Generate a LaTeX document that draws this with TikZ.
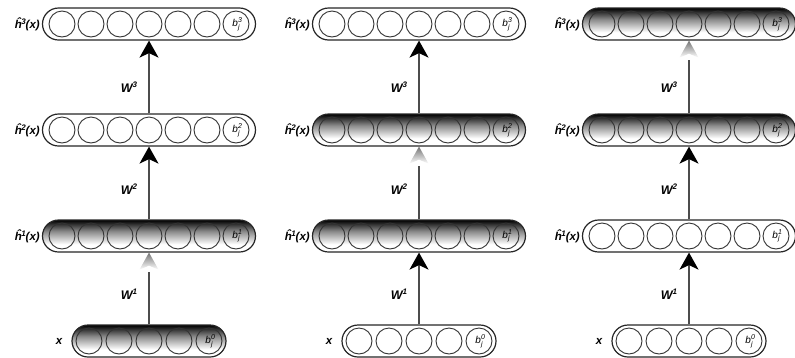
\documentclass[tikz,border=0pt]{standalone}
\usepackage{fontspec}
\setmainfont{Liberation Sans}
\usetikzlibrary{arrows.meta}

% dark-at-the-top fill used for the highlighted layers
\pgfdeclareverticalshading{layershade}{100bp}{color(0bp)=(white); color(25bp)=(white); color(37bp)=(white); color(57bp)=(black!45); color(75bp)=(black); color(100bp)=(black)}

\newcommand{\biasj}[1]{{\fontsize{10}{10}\selectfont\itshape b\kern0.3pt\makebox[0pt][l]{\raisebox{3.8pt}{\fontsize{7}{7}\selectfont #1}}\raisebox{-2.8pt}{\fontsize{7}{7}\selectfont j}}}
\newcommand{\hlab}[1]{{\fontsize{11.5}{12}\selectfont\bfseries\itshape ĥ\kern-0.6pt\raisebox{4pt}{\fontsize{8}{8}\selectfont #1}(x)}}
\newcommand{\wlab}[1]{{\fontsize{12.5}{13}\selectfont\bfseries\itshape W\raisebox{4.5pt}{\fontsize{8}{8}\selectfont #1}}}

\tikzset{
  layer/.style={draw=black!85, line width=1.2pt, rounded corners=16pt, minimum height=32pt, inner sep=0pt},
  plainlayer/.style={layer, fill=white},
  shadedlayer/.style={layer, shade, shading=layershade},
  unit/.style={circle, draw=black!80, line width=0.9pt, minimum size=26pt, inner sep=0pt},
  link/.style={draw=black!70, line width=1.4pt, -{Stealth[length=17pt, width=19pt, inset=4.5pt, color=black]}},
  fadedlink/.style={draw=black!70, line width=1.4pt},
  lab/.style={inner sep=0pt},
}

\begin{document}
\begin{tikzpicture}[x=1pt, y=-1pt]
\useasboundingbox (0,0) rectangle (795,357);

\foreach \c in {1,2,3} {
  \pgfmathtruncatemacro\cx{149+270*(\c-1)}
  % layers: 0 = input x, 1..3 = hidden layers
  \foreach \l/\y in {0/341,1/236,2/130,3/24} {
    \pgfmathtruncatemacro\sh{((\l==\c-1) || (\l==\c)) ? 1 : 0}
    \ifnum\l=0
      \ifnum\sh=1
        \node[shadedlayer, minimum width=154pt] (L\c-\l) at (\cx,\y) {};
      \else
        \node[plainlayer, minimum width=154pt] (L\c-\l) at (\cx,\y) {};
      \fi
      \foreach \i in {1,...,4}
        \node[unit] (U\c-\l-\i) at (\cx+30*\i-90,\y) {};
      \node[unit] (U\c-\l-5) at (\cx+60,\y) {\biasj{0}};
      \node[lab] (X\c) at (\cx-90,\y) {\bfseries\itshape\fontsize{11.5}{12}\selectfont x};
    \else
      \ifnum\sh=1
        \node[shadedlayer, minimum width=213pt] (L\c-\l) at (\cx,\y) {};
      \else
        \node[plainlayer, minimum width=213pt] (L\c-\l) at (\cx,\y) {};
      \fi
      \foreach \i in {1,...,6}
        \node[unit] (U\c-\l-\i) at (\cx+29*\i-116,\y) {};
      \node[unit] (U\c-\l-7) at (\cx+87,\y) {\biasj{\l}};
      \node[lab, anchor=east] (H\c-\l) at (\cx-109,\y) {\hlab{\l}};
    \fi
  }
  % weight connections between consecutive layers
  \foreach \k/\wy in {1/294,2/189,3/87} {
    \pgfmathtruncatemacro\lo{\k-1}
    \ifnum\k=\c
      \draw[fadedlink] (L\c-\lo.north) -- ([yshift=-19pt]L\c-\k.south);
      \shade[top color=black!55, bottom color=white]
        (L\c-\k.south) -- ++(-9.5,17) -- ++(9.5,-4) -- ++(9.5,4) -- cycle;
    \else
      \draw[link] (L\c-\lo.north) -- (L\c-\k.south);
    \fi
    \node[lab] (W\c-\k) at (\cx-20,\wy) {\wlab{\k}};
  }
}
\end{tikzpicture}
\end{document}
